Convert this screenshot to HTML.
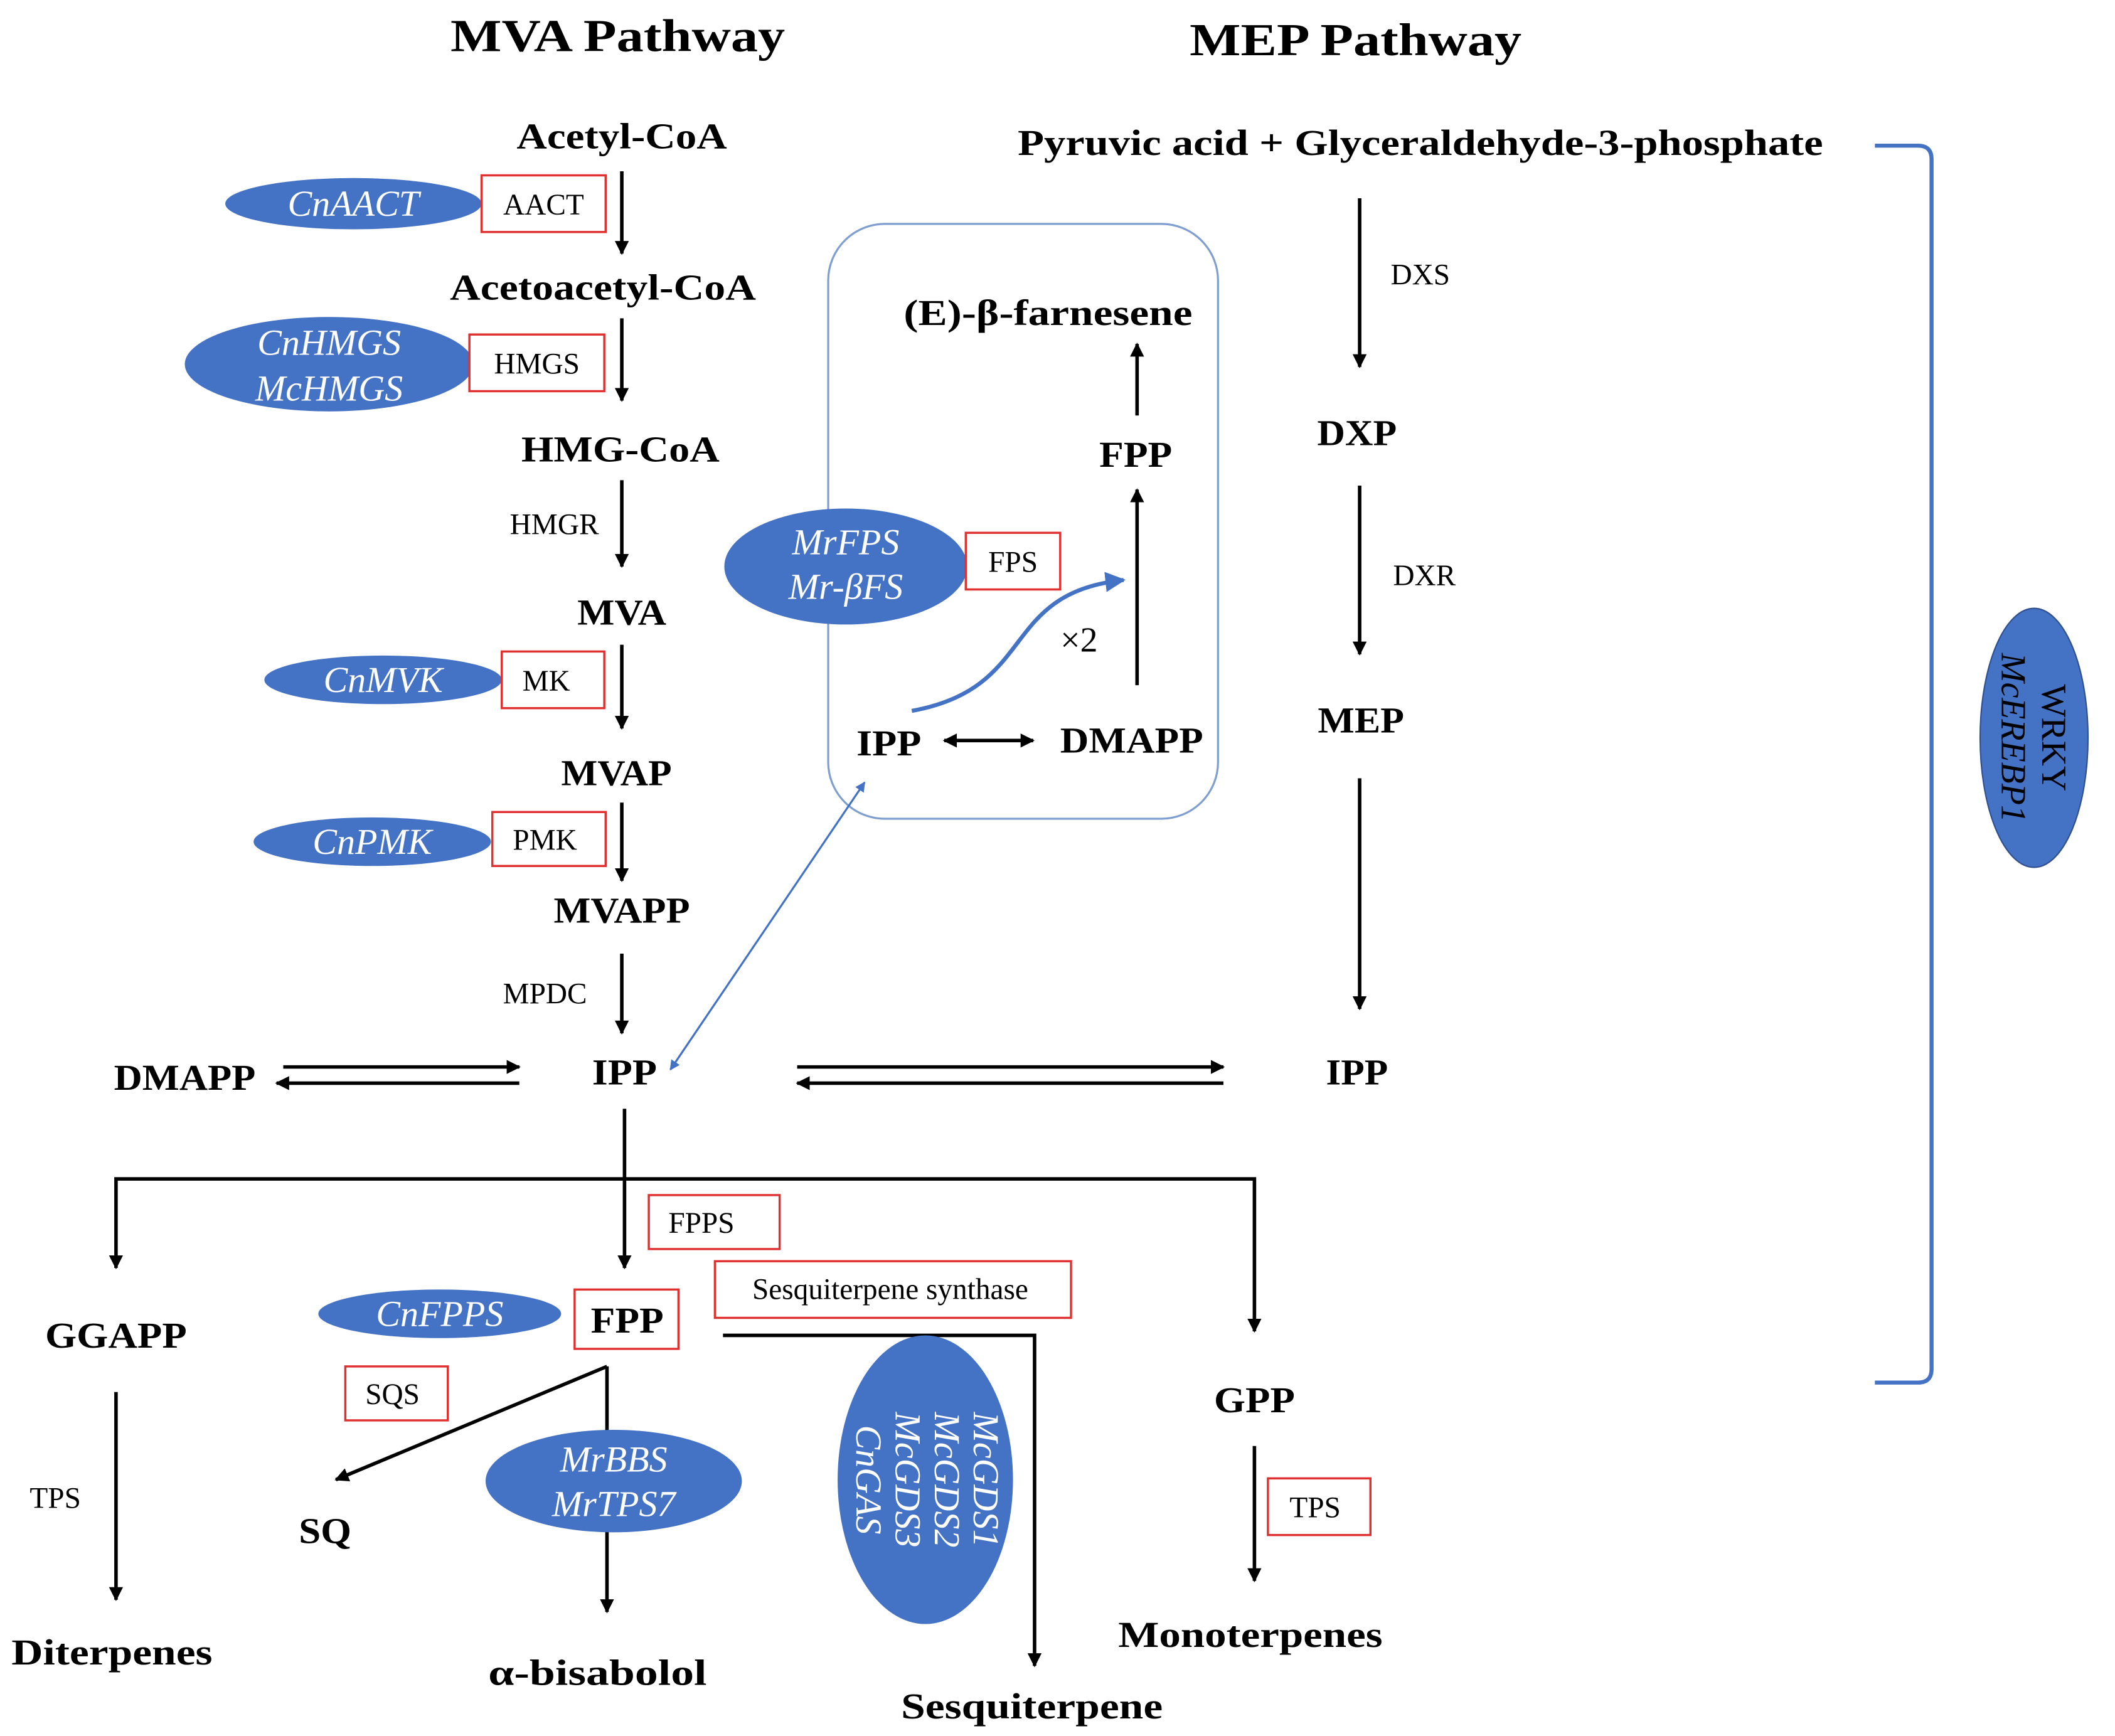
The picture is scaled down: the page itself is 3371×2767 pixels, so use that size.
<!DOCTYPE html>
<html><head><meta charset="utf-8"><style>
html,body{margin:0;padding:0;background:#fff;}
svg{display:block;}
text{font-family:"Liberation Serif",serif;}
.b{font-weight:bold;font-size:27px;fill:#000;}
.n{font-size:22px;fill:#000;}
.g{font-style:italic;font-size:27px;fill:#fff;}
.e{fill:#4472C4;}
.r{fill:#fff;stroke:#E03030;stroke-width:1.6;}
.a{stroke:#000;stroke-width:2.6;fill:none;}
</style></head><body>
<svg width="3371" height="2767" viewBox="0 0 1568 1287" preserveAspectRatio="none" xmlns="http://www.w3.org/2000/svg">
<defs>
<marker id="ah" viewBox="0 0 10 10" refX="9" refY="5" markerWidth="4" markerHeight="4" orient="auto-start-reverse"><path d="M0,0L10,5L0,10z" fill="#000"/></marker>
<marker id="bh" viewBox="0 0 10 10" refX="9" refY="5" markerWidth="5" markerHeight="5" orient="auto-start-reverse"><path d="M0,0L10,5L0,10z" fill="#4472C4"/></marker>
</defs>
<g text-anchor="middle">
<text x="458" y="38" style="font-weight:bold;font-size:34px" textLength="248" lengthAdjust="spacingAndGlyphs">MVA Pathway</text>
<text x="1005" y="41" style="font-weight:bold;font-size:34px" textLength="246" lengthAdjust="spacingAndGlyphs">MEP Pathway</text>

<text class="b" x="461" y="110" textLength="156" lengthAdjust="spacingAndGlyphs">Acetyl-CoA</text>
<line class="a" x1="461" y1="127" x2="461" y2="188" marker-end="url(#ah)"/>
<ellipse class="e" cx="262" cy="151" rx="95" ry="19"/><text class="g" x="262" y="160">CnAACT</text>
<rect class="r" x="357" y="130" width="92" height="42"/><text class="n" x="403" y="159">AACT</text>

<text class="b" x="447" y="222" textLength="227" lengthAdjust="spacingAndGlyphs">Acetoacetyl-CoA</text>
<line class="a" x1="461" y1="236" x2="461" y2="297" marker-end="url(#ah)"/>
<ellipse class="e" cx="244" cy="270" rx="107" ry="35"/><text class="g" x="244" y="263">CnHMGS</text><text class="g" x="244" y="297">McHMGS</text>
<rect class="r" x="348" y="248" width="100" height="42"/><text class="n" x="398" y="277">HMGS</text>

<text class="b" x="460" y="342" textLength="147" lengthAdjust="spacingAndGlyphs">HMG-CoA</text>
<line class="a" x1="461" y1="356" x2="461" y2="420" marker-end="url(#ah)"/>
<text class="n" x="411" y="396">HMGR</text>

<text class="b" x="461" y="463" textLength="66" lengthAdjust="spacingAndGlyphs">MVA</text>
<line class="a" x1="461" y1="478" x2="461" y2="540" marker-end="url(#ah)"/>
<ellipse class="e" cx="284" cy="504" rx="88" ry="18"/><text class="g" x="284" y="513">CnMVK</text>
<rect class="r" x="372" y="483" width="76" height="42"/><text class="n" x="405" y="512">MK</text>

<text class="b" x="457" y="582" textLength="82" lengthAdjust="spacingAndGlyphs">MVAP</text>
<line class="a" x1="461" y1="595" x2="461" y2="653" marker-end="url(#ah)"/>
<ellipse class="e" cx="276" cy="624" rx="88" ry="18"/><text class="g" x="276" y="633">CnPMK</text>
<rect class="r" x="365" y="602" width="84" height="40"/><text class="n" x="404" y="630">PMK</text>

<text class="b" x="461" y="684" textLength="101" lengthAdjust="spacingAndGlyphs">MVAPP</text>
<line class="a" x1="461" y1="707" x2="461" y2="766" marker-end="url(#ah)"/>
<text class="n" x="404" y="744">MPDC</text>

<text class="b" x="463" y="804" textLength="48" lengthAdjust="spacingAndGlyphs">IPP</text>
<text class="b" x="137" y="808" textLength="105" lengthAdjust="spacingAndGlyphs">DMAPP</text>
<line class="a" x1="210" y1="791" x2="385" y2="791" marker-end="url(#ah)"/>
<line class="a" x1="385" y1="803" x2="205" y2="803" marker-end="url(#ah)"/>
<line class="a" x1="591" y1="791" x2="907" y2="791" marker-end="url(#ah)"/>
<line class="a" x1="907" y1="803" x2="591" y2="803" marker-end="url(#ah)"/>
<text class="b" x="1006" y="804" textLength="46" lengthAdjust="spacingAndGlyphs">IPP</text>

<rect x="614" y="166" width="289" height="441" rx="42" fill="none" stroke="#7F9FD0" stroke-width="1.5"/>
<text class="b" x="777" y="241" textLength="214" lengthAdjust="spacingAndGlyphs">(E)-β-farnesene</text>
<line class="a" x1="843" y1="308" x2="843" y2="255" marker-end="url(#ah)"/>
<text class="b" x="842" y="346" textLength="54" lengthAdjust="spacingAndGlyphs">FPP</text>
<line class="a" x1="843" y1="508" x2="843" y2="363" marker-end="url(#ah)"/>
<text class="b" x="659" y="560" textLength="48" lengthAdjust="spacingAndGlyphs">IPP</text>
<text class="b" x="839" y="558" textLength="106" lengthAdjust="spacingAndGlyphs">DMAPP</text>
<line class="a" x1="700" y1="549" x2="766" y2="549" marker-start="url(#ah)" marker-end="url(#ah)"/>
<path d="M676,527 C770,510 740,440 833,430" stroke="#4472C4" stroke-width="3" fill="none" marker-end="url(#bh)"/>
<text x="800" y="483" style="font-size:26px">×2</text>
<ellipse class="e" cx="627" cy="420" rx="90" ry="43"/><text class="g" x="627" y="411">MrFPS</text><text class="g" x="627" y="444">Mr-βFS</text>
<rect class="r" x="716" y="395" width="70" height="42"/><text class="n" x="751" y="424">FPS</text>
<line x1="497" y1="793" x2="641" y2="580" stroke="#4472C4" stroke-width="1.5" marker-start="url(#bh)" marker-end="url(#bh)"/>

<text class="b" x="1053" y="115" textLength="597" lengthAdjust="spacingAndGlyphs">Pyruvic acid + Glyceraldehyde-3-phosphate</text>
<line class="a" x1="1008" y1="147" x2="1008" y2="272" marker-end="url(#ah)"/>
<text class="n" x="1053" y="211">DXS</text>
<text class="b" x="1006" y="330" textLength="59" lengthAdjust="spacingAndGlyphs">DXP</text>
<line class="a" x1="1008" y1="360" x2="1008" y2="485" marker-end="url(#ah)"/>
<text class="n" x="1056" y="434">DXR</text>
<text class="b" x="1009" y="543" textLength="64" lengthAdjust="spacingAndGlyphs">MEP</text>
<line class="a" x1="1008" y1="577" x2="1008" y2="748" marker-end="url(#ah)"/>

<path d="M1390,108 L1422,108 Q1432,108 1432,118 L1432,1015 Q1432,1025 1422,1025 L1390,1025" stroke="#4472C4" stroke-width="3" fill="none"/>
<ellipse class="e" cx="1508" cy="547" rx="40" ry="96" stroke="#2F4F8F" stroke-width="1"/>
<g transform="translate(1508,547) rotate(90)"><text x="0" y="-6" style="font-size:26px">WRKY</text><text x="0" y="24" style="font-size:26px;font-style:italic">McEREBP1</text></g>

<line class="a" x1="463" y1="822" x2="463" y2="940" marker-end="url(#ah)"/>
<polyline class="a" points="86,940 86,874 930,874 930,987" marker-end="url(#ah)" marker-start="url(#ah)"/>
<rect class="r" x="481" y="886" width="97" height="40"/><text class="n" x="520" y="914">FPPS</text>
<rect class="r" x="530" y="935" width="264" height="42"/><text class="n" x="660" y="963">Sesquiterpene synthase</text>
<rect class="r" x="426" y="956" width="77" height="44"/><text class="b" x="465" y="988" textLength="54" lengthAdjust="spacingAndGlyphs">FPP</text>
<ellipse class="e" cx="326" cy="974" rx="90" ry="18"/><text class="g" x="326" y="983">CnFPPS</text>

<text class="b" x="86" y="999" textLength="105" lengthAdjust="spacingAndGlyphs">GGAPP</text>
<line class="a" x1="86" y1="1032" x2="86" y2="1186" marker-end="url(#ah)"/>
<text class="n" x="41" y="1118">TPS</text>
<text class="b" x="83" y="1234" textLength="149" lengthAdjust="spacingAndGlyphs">Diterpenes</text>

<polyline class="a" points="536,990 767,990 767,1235" marker-end="url(#ah)"/>
<ellipse class="e" cx="686" cy="1097" rx="65" ry="107"/>
<g transform="translate(686,1097) rotate(90)"><text class="g" x="0" y="-36">McGDS1</text><text class="g" x="0" y="-7">McGDS2</text><text class="g" x="0" y="22">McGDS3</text><text class="g" x="0" y="51">CnGAS</text></g>
<text class="b" x="765" y="1274" textLength="194" lengthAdjust="spacingAndGlyphs">Sesquiterpene</text>

<rect class="r" x="256" y="1013" width="76" height="40"/><text class="n" x="291" y="1041">SQS</text>
<line class="a" x1="450" y1="1013" x2="249" y2="1097" marker-end="url(#ah)"/>
<line class="a" x1="450" y1="1013" x2="450" y2="1195" marker-end="url(#ah)"/>
<ellipse class="e" cx="455" cy="1098" rx="95" ry="38"/><text class="g" x="455" y="1091">MrBBS</text><text class="g" x="455" y="1124">MrTPS7</text>
<text class="b" x="241" y="1144" textLength="39" lengthAdjust="spacingAndGlyphs">SQ</text>
<text class="b" x="443" y="1249" textLength="162" lengthAdjust="spacingAndGlyphs">α-bisabolol</text>

<text class="b" x="930" y="1047" textLength="60" lengthAdjust="spacingAndGlyphs">GPP</text>
<line class="a" x1="930" y1="1072" x2="930" y2="1172" marker-end="url(#ah)"/>
<rect class="r" x="940" y="1096" width="76" height="42"/><text class="n" x="975" y="1125">TPS</text>
<text class="b" x="927" y="1221" textLength="196" lengthAdjust="spacingAndGlyphs">Monoterpenes</text>
</g>
</svg>
</body></html>
